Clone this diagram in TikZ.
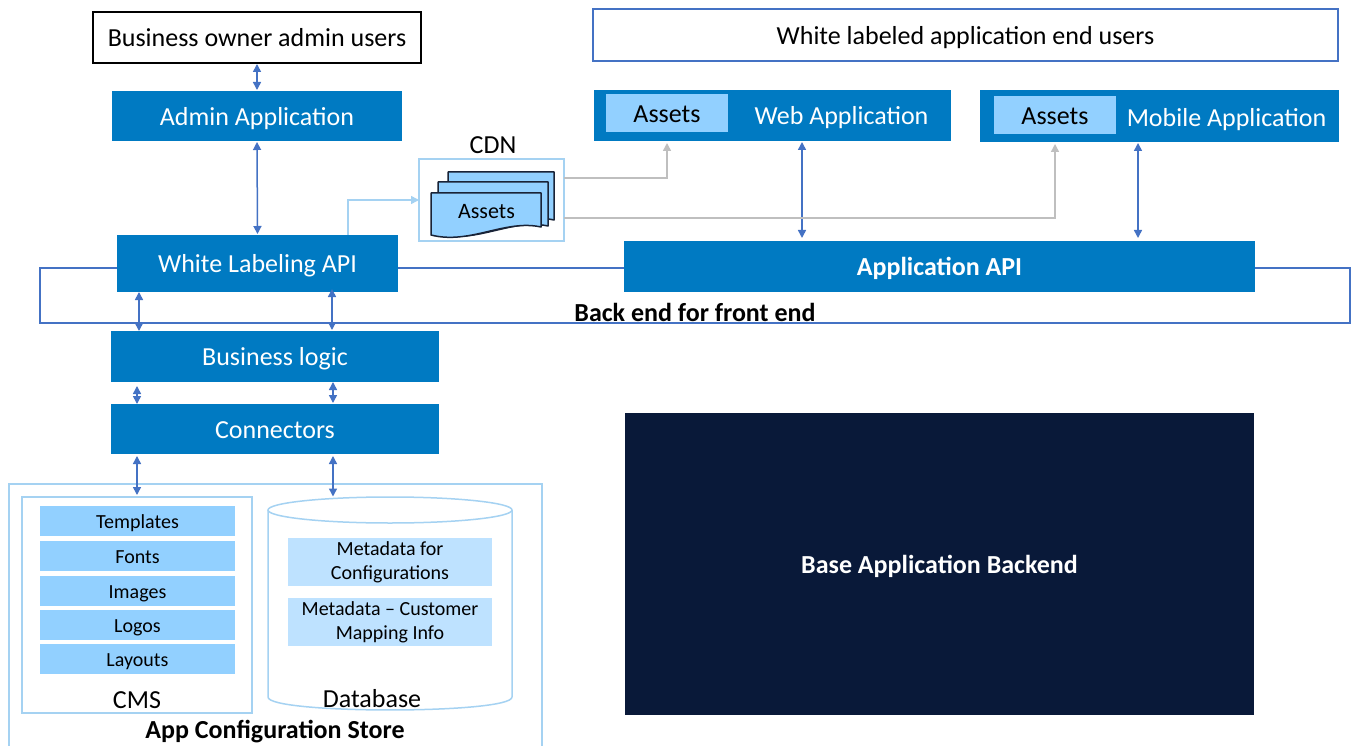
\documentclass[tikz,border=0pt]{standalone}
\usepackage{fontspec}
\setmainfont{Carlito}
\usetikzlibrary{arrows.meta}
\definecolor{mainblue}{RGB}{0,122,194}
\definecolor{itemblue}{RGB}{146,208,255}
\definecolor{dbitem}{RGB}{190,226,255}
\definecolor{lineblue}{RGB}{68,114,196}
\definecolor{lightborder}{RGB}{165,210,242}
\definecolor{greyline}{RGB}{191,191,191}
\definecolor{navybg}{RGB}{9,25,57}
\definecolor{docedge}{RGB}{25,35,55}
\begin{document}
\begin{tikzpicture}[x=1pt,y=-1pt,
  txt/.style={inner sep=0pt,outer sep=0pt,align=center},
  blk/.style={txt, fill=mainblue, text=white, font=\fontsize{26}{31}\selectfont, text height=18.6pt, text depth=0pt},
  bblk/.style={blk, font=\fontsize{26}{31}\selectfont\bfseries},
  cmsitem/.style={txt, fill=itemblue, font=\fontsize{20}{24}\selectfont, text height=14.2pt, text depth=0pt, minimum width=195, minimum height=30},
  dbit/.style={txt, fill=dbitem, font=\fontsize{20}{24}\selectfont, minimum width=204, minimum height=48},
  lab/.style={txt, font=\fontsize{26}{31}\selectfont, text height=18.6pt, text depth=0pt},
  blab/.style={lab, font=\fontsize{26}{31}\selectfont\bfseries},
  assetbox/.style={txt, fill=itemblue, font=\fontsize{26}{31}\selectfont, text height=18.6pt, text depth=0pt, minimum width=122, minimum height=38},
  biarrow/.style={draw=lineblue, line width=1.5pt, {Triangle[width=8pt,length=8pt]}-{Triangle[width=8pt,length=8pt]}},
  greyarrow/.style={draw=greyline, line width=1.5pt, -{Triangle[width=8pt,length=8pt]}},
  lbarrow/.style={draw=lightborder, line width=1.5pt, -{Triangle[width=8pt,length=8pt]}},
  docstyle/.style={fill=itemblue, draw=docedge, line width=1.5pt, line join=round},
  container/.style={txt, draw=lightborder, line width=1.5pt}
]
\useasboundingbox (0,0) rectangle (1352,746);
\fill[white] (0,0) rectangle (1352,746);

% column coordinates
\coordinate (xa) at (139,0);
\coordinate (xb) at (332,0);
\coordinate (xc) at (137,0);
\coordinate (xd) at (333,0);
\coordinate (xw) at (802,0);
\coordinate (xm) at (1138,0);
\coordinate (xl) at (348,0);
\coordinate (dbtop) at (333,497.5);

% back end for front end container
\node[txt, draw=lineblue, line width=1.2pt, minimum width=1310, minimum height=55] (bff) at (695,295.5) {};
\node[blab] (bfflabel) at (695,312.5) {Back end for front end};

% top left
\node[lab, draw=black, line width=1.8pt, minimum width=328, minimum height=51] (owner) at (257,37.5) {Business owner admin users};
\node[blk, minimum width=290, minimum height=50] (admin) at (257,116) {Admin Application};
\node[blk, minimum width=281, minimum height=57] (wl) at (257.5,263.5) {White Labeling API};
\node[blk, minimum width=328, minimum height=51] (bl) at (275,356.5) {Business logic};
\node[blk, minimum width=328, minimum height=50] (conn) at (275,429) {Connectors};

% app configuration store
\draw[lightborder, line width=1.5pt] (9,750) -- (9,484) -- (542,484) -- (542,750);
\node[blab] (storelabel) at (275,729.5) {App Configuration Store};

\node[container, minimum width=230, minimum height=216] (cms) at (137,605) {};
\node[cmsitem] (tpl) at (137.5,521) {Templates};
\node[cmsitem] (fonts) at (137.5,556) {Fonts};
\node[cmsitem] (imgs) at (137.5,591) {Images};
\node[cmsitem] (logos) at (137.5,625) {Logos};
\node[cmsitem] (layouts) at (137.5,659) {Layouts};
\node[lab] (cmslabel) at (137,699.5) {CMS};

% database cylinder
\draw[lightborder, line width=1.5pt, fill=white] (268,510) -- (268,697) .. controls (268,714.3) and (512,714.3) .. (512,697) -- (512,510);
\draw[lightborder, line width=1.5pt] (390,510) ellipse[x radius=122, y radius=13];
\node[dbit] (meta1) at (390,562) {Metadata for\\Configurations};
\node[dbit] (meta2) at (390,622) {Metadata -- Customer\\Mapping Info};
\node[lab] (dblabel) at (372,698.5) {Database};

% CDN
\node[container, minimum width=145, minimum height=82] (cdn) at (491.5,200) {};
\node[lab] (cdnlabel) at (493,144) {CDN};
\filldraw[docstyle] (448,172) -- (554,172) -- (554,220) .. controls (519,212) and (484,238) .. (448,228) -- cycle;
\filldraw[docstyle] (438,182) -- (548,182) -- (548,226) .. controls (512,218) and (477,244) .. (438,234) -- cycle;
\filldraw[docstyle] (431,193) -- (541,193) -- (541,227) .. controls (505,219) and (470,245) .. (431,235) -- cycle;
\node[txt, font=\fontsize{22}{26}\selectfont, text height=15.5pt, text depth=0pt] (cdnassets) at (486.5,210.5) {Assets};

% end users
\node[lab, draw=lineblue, line width=1.2pt, minimum width=745, minimum height=52] (users) at (965.5,35) {White labeled application end users};

% web application
\node[blk, minimum width=357, minimum height=51] (web) at (772.5,115.5) {};
\node[assetbox] (webassets) at (667,113) {Assets};
\node[lab, text=white] (webtxt) at (841.5,115) {Web Application};

% mobile application
\node[blk, minimum width=359, minimum height=52] (mobile) at (1159.5,116) {};
\node[assetbox] (mobassets) at (1055,115) {Assets};
\node[lab, text=white] (mobtxt) at (1226.5,117) {Mobile Application};

% application API
\node[bblk, minimum width=631, minimum height=51] (appapi) at (939.5,266.5) {Application API};

% base backend
\node[bblk, fill=navybg, minimum width=629, minimum height=302] (base) at (939.5,564) {Base Application Backend};

% connectors
\draw[biarrow, shorten <=1pt, shorten >=1pt] (owner.south) -- (admin.north);
\draw[biarrow, shorten <=1pt, shorten >=1pt] (admin.south) -- (wl.north);
\draw[biarrow] (wl.south -| xa) -- (bl.north -| xa);
\draw[biarrow] ([yshift=3pt]wl.south -| xb) -- ([yshift=1pt]bl.north -| xb);
\draw[biarrow] ([yshift=-4pt]bl.south -| xc) -- (conn.north -| xc);
\draw[biarrow] (bl.south -| xd) -- ([yshift=1pt]conn.north -| xd);
\draw[biarrow, shorten <=2pt, shorten >=2pt] (conn.south -| xc) -- (cms.north -| xc);
\draw[biarrow, shorten <=2pt, shorten >=1pt] (conn.south -| xd) -- (dbtop);
\draw[biarrow, shorten <=1pt, shorten >=3pt] (web.south -| xw) -- (appapi.north -| xw);
\draw[biarrow, shorten <=1pt, shorten >=3pt] (mobile.south -| xm) -- (appapi.north -| xm);
\draw[greyarrow, shorten >=2pt] ([yshift=22pt]cdn.east) -| (web.south -| webassets.south);
\draw[greyarrow, shorten >=2pt] ([yshift=-18pt]cdn.east) -| (mobile.south -| mobassets.south);
\draw[lbarrow] (wl.north -| xl) |- (cdn.west);
\end{tikzpicture}
\end{document}
